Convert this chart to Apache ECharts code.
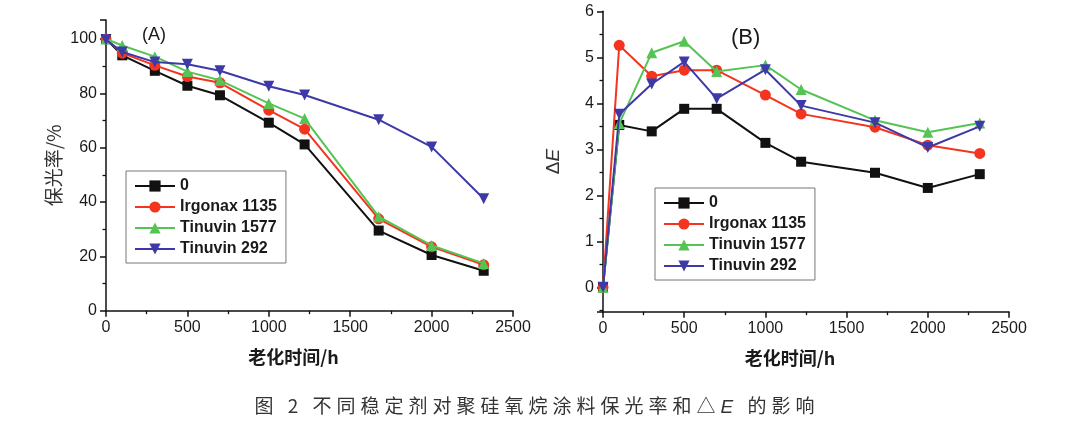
<!DOCTYPE html>
<html><head><meta charset="utf-8">
<script src="https://cdn.jsdelivr.net/npm/echarts@6/dist/echarts.min.js"></script>
<style>
html,body{margin:0;padding:0;background:#fff;}
#chart{width:1080px;height:438px;}
#cap{position:absolute;left:0;top:395px;width:1074px;text-align:center;font-family:"Noto Sans CJK SC";font-size:19px;letter-spacing:5px;color:#333;line-height:20px;}
#cap i{font-family:"Liberation Sans";font-style:italic;}
</style></head><body>
<div id="chart"></div>
<div id="cap">图 2 不同稳定剂对聚硅氧烷涂料保光率和△<i>E</i> 的影响</div>
<script>
// ---- data ----
const hours = [0, 100, 300, 500, 700, 1000, 1220, 1675, 2000, 2320];
const seriesNames = ['0', 'Irgonax 1135', 'Tinuvin 1577', 'Tinuvin 292'];
// (A) gloss retention, %
const gloss0      = [100, 94.0, 88.3, 82.8, 79.3, 69.2, 61.2, 29.5, 20.5, 14.7];
const glossIrg    = [100, 94.8, 90.3, 86.2, 83.9, 73.8, 66.8, 33.8, 23.5, 16.9];
const glossT1577  = [100, 97.6, 93.5, 88.0, 84.8, 76.3, 70.7, 34.6, 24.0, 17.4];
const glossT292   = [99.7, 95.2, 91.5, 90.7, 88.3, 82.6, 79.4, 70.3, 60.3, 41.2];
// (B) colour difference ΔE
const dE0      = [0, 3.53, 3.39, 3.88, 3.88, 3.14, 2.73, 2.49, 2.16, 2.46];
const dEIrg    = [0, 5.26, 4.59, 4.72, 4.72, 4.18, 3.77, 3.48, 3.09, 2.91];
const dET1577  = [0, 3.56, 5.10, 5.35, 4.69, 4.83, 4.30, 3.63, 3.37, 3.57];
const dET292   = [0, 3.76, 4.42, 4.90, 4.10, 4.73, 3.95, 3.58, 3.04, 3.50];

const glossSets = [gloss0, glossIrg, glossT1577, glossT292];
const dESets = [dE0, dEIrg, dET1577, dET292];

// ---- styling ----
const colors = ['#111111', '#f5341f', '#55c455', '#3d3aa8'];
const symbols = ['rect', 'circle', 'triangle', 'triangle'];
const rotates = [0, 0, 0, 180];
const sizes = [10, 11, 11, 11];

function mk(i, data, ax) {
  return {
    name: seriesNames[i], type: 'line', xAxisIndex: ax, yAxisIndex: ax,
    data: hours.map((h, k) => [h, data[k]]),
    symbol: symbols[i], symbolRotate: rotates[i], symbolSize: sizes[i],
    showAllSymbol: true,
    itemStyle: { color: colors[i] },
    lineStyle: { color: colors[i], width: 2 },
    z: 2 + i, animation: false
  };
}

const plain = v => String(Math.round(v * 1000) / 1000);
const axisLineS = { show: true, onZero: false, lineStyle: { color: '#111', width: 1.5 } };
const tickS = { show: true, inside: false, length: 6, lineStyle: { color: '#111', width: 1.5 } };
const minorS = { show: true, splitNumber: 2, length: 3.5, lineStyle: { color: '#111', width: 1.3 } };
const labelS = { fontSize: 16, color: '#1a1a1a', fontFamily: 'Liberation Sans', margin: 9, formatter: plain };
const xNameS = { fontSize: 18, fontWeight: 'bold', fontFamily: 'Noto Sans CJK SC', color: '#1a1a1a', padding: [0, 32, 0, 0] };

function xAx(g) {
  return {
    type: 'value', gridIndex: g, min: 0, max: 2500, interval: 500,
    name: '老化时间/h', nameLocation: 'middle', nameGap: 37, nameTextStyle: xNameS,
    axisLine: axisLineS, axisTick: tickS, minorTick: minorS,
    splitLine: { show: false }, minorSplitLine: { show: false },
    axisLabel: labelS
  };
}

const legendBase = {
  orient: 'vertical', itemWidth: 40, itemHeight: 14, itemGap: 5,
  padding: [7, 9, 6, 8], borderColor: '#777', borderWidth: 1,
  textStyle: { fontSize: 16, fontWeight: 'bold', lineHeight: 16, fontFamily: 'Liberation Sans', color: '#1a1a1a' },
  data: seriesNames, selectedMode: false
};

const option = {
  backgroundColor: '#fff',
  animation: false,
  grid: [
    { left: 106, top: 20, width: 407, height: 290.7, outerBoundsMode: 'none' },
    { left: 603, top: 11.3, width: 406, height: 300.4, outerBoundsMode: 'none' }
  ],
  xAxis: [xAx(0), xAx(1)],
  yAxis: [
    {
      type: 'value', gridIndex: 0, min: 0, max: 107, minInterval: 20, maxInterval: 20,
      name: '保光率/%', nameLocation: 'middle', nameGap: 43,
      nameTextStyle: { fontSize: 19, fontFamily: 'Noto Sans CJK SC', color: '#333' },
      axisLine: axisLineS, axisTick: tickS, minorTick: minorS,
      splitLine: { show: false }, minorSplitLine: { show: false },
      axisLabel: Object.assign({}, labelS, { showMaxLabel: false })
    },
    {
      type: 'value', gridIndex: 1, min: -0.53, max: 6, minInterval: 1, maxInterval: 1,
      name: '{d|Δ}{e|E}', nameLocation: 'middle', nameGap: 40,
      nameTextStyle: {
        fontSize: 19, color: '#333',
        rich: {
          d: { fontSize: 19, fontFamily: 'Liberation Sans', color: '#333' },
          e: { fontSize: 19, fontFamily: 'Liberation Sans', fontStyle: 'italic', color: '#333' }
        }
      },
      axisLine: axisLineS, axisTick: tickS, minorTick: minorS,
      splitLine: { show: false }, minorSplitLine: { show: false },
      axisLabel: Object.assign({}, labelS, { showMinLabel: false })
    }
  ],
  legend: [
    Object.assign({}, legendBase, { left: 126, top: 171 }),
    Object.assign({}, legendBase, { left: 655, top: 188 })
  ],
  graphic: [
    { type: 'text', left: 142, top: 26, style: { text: '(A)', font: '18px "Liberation Sans"', fill: '#1a1a1a' } },
    { type: 'text', left: 731, top: 27, style: { text: '(B)', font: '22px "Liberation Sans"', fill: '#1a1a1a' } }
  ],
  series: [
    ...glossSets.map((d, i) => mk(i, d, 0)),
    ...dESets.map((d, i) => mk(i, d, 1))
  ]
};

const chart = echarts.init(document.getElementById('chart'), null, { renderer: 'canvas' });
chart.setOption(option);
</script>
</body></html>
